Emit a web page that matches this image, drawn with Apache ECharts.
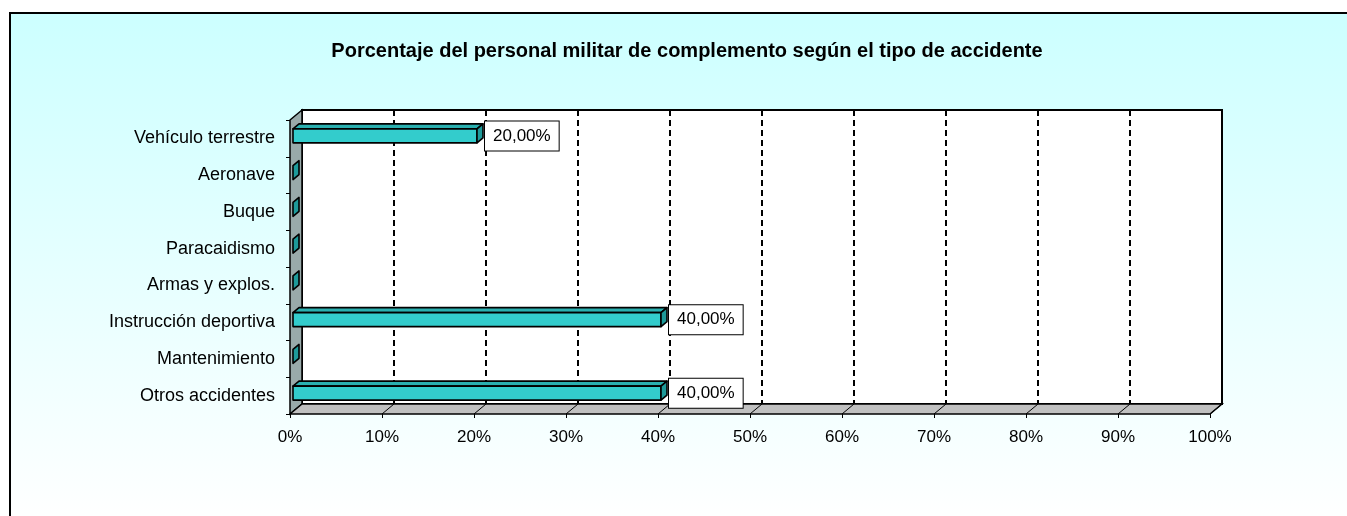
<!DOCTYPE html>
<html><head><meta charset="utf-8">
<script src="https://cdn.jsdelivr.net/npm/echarts@6/dist/echarts.min.js"></script>
<style>html,body{margin:0;padding:0;background:#fff;}#c{width:1347px;height:516px;}</style>
</head><body><div id="c"></div>
<script>
const titleText = 'Porcentaje del personal militar de complemento según el tipo de accidente';
const categories = ['Vehículo terrestre','Aeronave','Buque','Paracaidismo','Armas y explos.','Instrucción deportiva','Mantenimiento','Otros accidentes'];
const values = [20, 0, 0, 0, 0, 40, 0, 40];
const xTicks = [0,10,20,30,40,50,60,70,80,90,100];

const DX = 12, DY = -10; // depth offset of back wall
const FONT = '"Liberation Sans", Arial, sans-serif';

const chart = echarts.init(document.getElementById('c'), null, {renderer:'canvas'});

function wallsRender(params, api){
  const cs = params.coordSys;
  const x = cs.x, y = cs.y, w = cs.width, h = cs.height;
  const ch = [];
  ch.push({type:'rect', shape:{x:x+DX, y:y+DY, width:w, height:h}, style:{fill:'#ffffff', stroke:'#000', lineWidth:2}});
  ch.push({type:'polygon', shape:{points:[[x,y],[x+DX,y+DY],[x+DX,y+h+DY],[x,y+h]]}, style:{fill:'#99AAAA', stroke:'#000', lineWidth:1.5}});
  ch.push({type:'polygon', shape:{points:[[x,y+h],[x+DX,y+h+DY],[x+w+DX,y+h+DY],[x+w,y+h]]}, style:{fill:'#C0C0C0', stroke:'#000', lineWidth:1.5}});
  xTicks.forEach(function(t){
    const px = api.coord([t, 0])[0];
    if (t > 0 && t < 100) {
      ch.push({type:'line', shape:{x1:px+DX, y1:y+DY, x2:px+DX, y2:y+h+DY}, style:{stroke:'#000', lineWidth:2, lineDash:[6,4]}});
    }
    if (t > 0) {
      ch.push({type:'line', shape:{x1:px, y1:y+h, x2:px+DX, y2:y+h+DY}, style:{stroke:'#000', lineWidth:1}});
    }
  });
  return {type:'group', children:ch};
}

function barRender(params, api){
  const i = api.value(1);
  const v = api.value(0);
  const p0 = api.coord([0, i]);
  const p1 = api.coord([v, i]);
  const band = api.size([0, 1])[1];
  const th = band * 0.38;
  const ox = DX*0.25, oy = DY*0.25;
  const dx = DX*0.5, dy = DY*0.5;
  const xs = p0[0] + ox, xe = p1[0] + ox;
  const yt = p0[1] + oy - th/2;
  const ch = [];
  const st = {stroke:'#000', lineWidth:1.6, lineJoin:'round'};
  if (xe > xs) {
    ch.push({type:'polygon', shape:{points:[[xs,yt],[xs+dx,yt+dy],[xe+dx,yt+dy],[xe,yt]]}, style:Object.assign({fill:'#2AB0B0'}, st)});
    ch.push({type:'rect', shape:{x:xs, y:yt, width:xe-xs, height:th}, style:Object.assign({fill:'#33CCCC'}, st)});
  }
  ch.push({type:'polygon', shape:{points:[[xe,yt],[xe+dx,yt+dy],[xe+dx,yt+th+dy],[xe,yt+th]]}, style:Object.assign({fill:'#1E9A9A'}, st)});
  if (v > 0) {
    ch.push({type:'text', x: xe + dx + 2, y: p0[1] + oy,
      style:{text: v.toFixed(2).replace('.', ',') + '%', fill:'#000', font:'17px ' + FONT,
        verticalAlign:'middle', align:'left', backgroundColor:'#fff', borderColor:'#000', borderWidth:1,
        padding:[6,8,6,8]}});
  }
  return {type:'group', children:ch};
}

chart.setOption({
  animation:false,
  backgroundColor:'#ffffff',
  graphic:[{type:'rect', z:-10, shape:{x:10, y:13, width:1400, height:600},
    style:{fill:new echarts.graphic.LinearGradient(0,0,0,1,[{offset:0,color:'#CCFFFF'},{offset:0.85,color:'#ffffff'},{offset:1,color:'#ffffff'}]), stroke:'#000', lineWidth:2}}],
  title:{text:titleText, left:682, top:36, textAlign:'center',
    textStyle:{fontFamily:FONT, fontSize:20, fontWeight:'bold', color:'#000'}},
  grid:{left:290, right:137, top:120, bottom:102},
  xAxis:{type:'value', min:0, max:100, interval:10,
    axisLine:{show:false}, splitLine:{show:false},
    axisTick:{show:true, length:4, lineStyle:{color:'#000'}},
    axisLabel:{formatter:'{value}%', color:'#000', fontFamily:FONT, fontSize:17, margin:15}},
  yAxis:{type:'category', data:categories, inverse:true,
    axisLine:{show:false}, splitLine:{show:false},
    axisTick:{show:true, length:4, lineStyle:{color:'#000'}},
    axisLabel:{color:'#000', fontFamily:FONT, fontSize:18, margin:15}},
  series:[
    {type:'custom', renderItem:wallsRender, data:[[0,0]], z:1, silent:true},
    {type:'custom', renderItem:barRender, data: values.map(function(v,i){return [v,i];}), z:2,
     encode:{x:0, y:1}}
  ]
});
</script></body></html>
